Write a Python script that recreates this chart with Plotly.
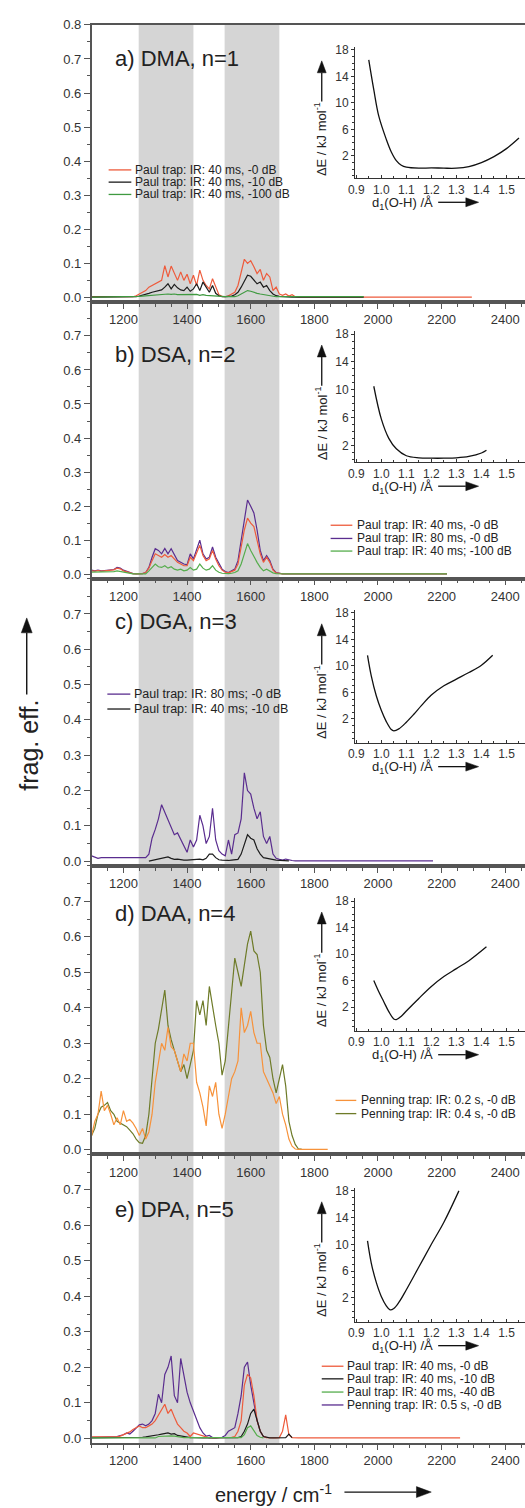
import math
import plotly.graph_objects as go

W, H = 525, 1508

# ---------------- data ----------------
GRID_START, GRID_STEP = 1100, 10          # energy grid (cm^-1) of the spectra below
energy_ticks = [1200, 1400, 1600, 1800, 2000, 2200, 2400]
frag_ticks = [0.0, 0.1, 0.2, 0.3, 0.4, 0.5, 0.6, 0.7]
frag_ticks_top = [0.0, 0.1, 0.2, 0.3, 0.4, 0.5, 0.6, 0.7, 0.8]
d_ticks = [0.9, 1.0, 1.1, 1.2, 1.3, 1.4, 1.5]
dE_ticks = [2, 6, 10, 14, 18]
shaded_bands = [(1248, 1420), (1518, 1690)]

# panel a) DMA
a_red = [0.002]*14 + [0.005, 0.01, 0.015, 0.02, 0.03, 0.035, 0.042, 0.045, 0.05, 0.093,
         0.06, 0.092, 0.07, 0.05, 0.075, 0.05, 0.068, 0.04, 0.065, 0.035,
         0.08, 0.05, 0.035, 0.025, 0.055, 0.03, 0.008, 0.003, 0.002, 0.005,
         0.01, 0.015, 0.035, 0.07, 0.112, 0.1, 0.108, 0.09, 0.07, 0.082,
         0.05, 0.07, 0.06, 0.02, 0.03, 0.01, 0.006, 0.01, 0.004, 0.008, 0.002, 0.001]
a_black = [0.001]*14 + [0.002, 0.004, 0.006, 0.01, 0.012, 0.015, 0.018, 0.02, 0.022, 0.03,
           0.04, 0.025, 0.038, 0.028, 0.022, 0.02, 0.03, 0.018, 0.025, 0.04,
           0.02, 0.045, 0.03, 0.015, 0.035, 0.012, 0.005, 0.002, 0.002, 0.002,
           0.004, 0.008, 0.015, 0.03, 0.05, 0.065, 0.062, 0.05, 0.04, 0.045,
           0.03, 0.035, 0.02, 0.01, 0.005, 0.003, 0.002, 0.002, 0.001, 0.001, 0.001, 0.001]
a_green = [0.001]*14 + [0.002, 0.003, 0.004, 0.005, 0.006, 0.007, 0.008, 0.008, 0.009, 0.01,
           0.01, 0.009, 0.01, 0.008, 0.008, 0.007, 0.008, 0.007, 0.008, 0.009,
           0.006, 0.008, 0.006, 0.005, 0.004, 0.003, 0.002, 0.002, 0.002, 0.002,
           0.002, 0.002, 0.005, 0.01, 0.015, 0.02, 0.018, 0.014, 0.012, 0.01,
           0.008, 0.007, 0.005, 0.003, 0.002, 0.002, 0.002, 0.002, 0.002, 0.002, 0.002, 0.002]
a_red_end, a_black_end, a_green_end = 2295, 1955, 1955

# panel b) DSA
b_red = [0.01, 0.009, 0.011, 0.009, 0.01, 0.011, 0.012, 0.013, 0.018, 0.016,
         0.01, 0.007, 0.004, 0.002, 0.001, 0.001, 0.002, 0.005, 0.018, 0.04,
         0.06, 0.055, 0.05, 0.058, 0.05, 0.055, 0.045, 0.035, 0.03, 0.025,
         0.025, 0.05, 0.04, 0.06, 0.085, 0.055, 0.04, 0.045, 0.07, 0.045,
         0.025, 0.012, 0.006, 0.004, 0.008, 0.012, 0.03, 0.08, 0.13, 0.165,
         0.15, 0.14, 0.1, 0.06, 0.035, 0.05, 0.035, 0.012, 0.004, 0.002,
         0.001, 0.001, 0.001, 0.001, 0.001, 0.001]
b_purple = [0.012, 0.01, 0.012, 0.01, 0.011, 0.012, 0.013, 0.014, 0.02, 0.018,
            0.012, 0.008, 0.004, 0.002, 0.001, 0.001, 0.002, 0.005, 0.02, 0.05,
            0.075, 0.07, 0.06, 0.076, 0.06, 0.075, 0.055, 0.04, 0.035, 0.03,
            0.028, 0.06, 0.045, 0.07, 0.1, 0.06, 0.045, 0.05, 0.08, 0.05,
            0.03, 0.015, 0.008, 0.005, 0.01, 0.015, 0.04, 0.1, 0.16, 0.218,
            0.2, 0.18, 0.13, 0.07, 0.04, 0.055, 0.04, 0.015, 0.005, 0.002,
            0.001, 0.001, 0.001, 0.001, 0.001, 0.001]
b_green = [0.006, 0.006, 0.007, 0.006, 0.007, 0.007, 0.008, 0.008, 0.01, 0.008,
           0.005, 0.003, 0.002, 0.001, 0.001, 0.001, 0.001, 0.001, 0.01, 0.02,
           0.03, 0.022, 0.02, 0.025, 0.018, 0.022, 0.015, 0.012, 0.015, 0.01,
           0.012, 0.02, 0.012, 0.015, 0.03, 0.018, 0.012, 0.015, 0.025, 0.012,
           0.006, 0.003, 0.002, 0.002, 0.003, 0.005, 0.01, 0.03, 0.06, 0.09,
           0.07, 0.05, 0.035, 0.02, 0.01, 0.015, 0.01, 0.004, 0.002, 0.001,
           0.001, 0.001, 0.001, 0.001, 0.001, 0.001]
b_end = 2217

# panel c) DGA
c_purple = [0.015, 0.012, 0.008, 0.01, 0.01, 0.01, 0.01, 0.01, 0.01, 0.01,
            0.01, 0.012, 0.01, 0.01, 0.01, 0.012, 0.01, 0.01, 0.02, 0.065,
            0.09, 0.12, 0.16, 0.14, 0.115, 0.1, 0.075, 0.08, 0.06, 0.04,
            0.025, 0.06, 0.04, 0.06, 0.13, 0.1, 0.05, 0.07, 0.15, 0.06,
            0.03, 0.02, 0.015, 0.06, 0.02, 0.075, 0.08, 0.12, 0.25, 0.2,
            0.19, 0.15, 0.12, 0.14, 0.07, 0.05, 0.07, 0.02, 0.008, 0.005,
            0.003, 0.006, 0.003, 0.002, 0.001, 0.001]
c_black_start = 1280
c_black = [0.0, 0.002, 0.004, 0.005, 0.006, 0.008, 0.012, 0.008, 0.005, 0.006,
           0.004, 0.003, 0.003, 0.004, 0.003, 0.005, 0.006, 0.004, 0.008, 0.02,
           0.02, 0.01, 0.004, 0.003, 0.002, 0.002, 0.003, 0.004, 0.005, 0.02,
           0.05, 0.075, 0.065, 0.06, 0.035, 0.02, 0.01, 0.008, 0.005, 0.004,
           0.003, 0.002, 0.002, 0.001, 0.001]
c_purple_end = 2173

# panel d) DAA
d_orange = [0.04, 0.08, 0.1, 0.165, 0.11, 0.125, 0.1, 0.07, 0.09, 0.07,
            0.11, 0.08, 0.085, 0.075, 0.06, 0.04, 0.06, 0.03, 0.05, 0.1,
            0.19, 0.25, 0.3, 0.28, 0.345, 0.29, 0.28, 0.25, 0.22, 0.27,
            0.25, 0.3, 0.3, 0.19, 0.16, 0.12, 0.067, 0.18, 0.15, 0.19,
            0.1, 0.06, 0.1, 0.15, 0.2, 0.22, 0.25, 0.4, 0.33, 0.35,
            0.39, 0.33, 0.3, 0.3, 0.22, 0.2, 0.18, 0.16, 0.13, 0.15,
            0.1, 0.07, 0.03, 0.01, 0.002, 0.001]
d_olive = [0.04, 0.06, 0.1, 0.12, 0.125, 0.133, 0.11, 0.1, 0.08, 0.075,
           0.07, 0.065, 0.055, 0.045, 0.03, 0.02, 0.018, 0.04, 0.1, 0.2,
           0.3, 0.34, 0.4, 0.45, 0.35, 0.31, 0.28, 0.25, 0.22, 0.24,
           0.2, 0.24, 0.28, 0.42, 0.38, 0.42, 0.35, 0.46, 0.4, 0.35,
           0.3, 0.21, 0.25, 0.35, 0.45, 0.54, 0.5, 0.46, 0.52, 0.58,
           0.616, 0.56, 0.55, 0.5, 0.35, 0.28, 0.26, 0.2, 0.16, 0.2,
           0.24, 0.18, 0.08, 0.04, 0.015, 0.002]
d_orange_end, d_olive_end = 1842, 1760

# panel e) DPA
e_purple = [0.003, 0.003, 0.004, 0.003, 0.003, 0.004, 0.003, 0.004, 0.005, 0.008,
            0.01, 0.015, 0.012, 0.02, 0.03, 0.038, 0.04, 0.035, 0.04, 0.05,
            0.07, 0.124, 0.1, 0.18, 0.2, 0.232, 0.12, 0.1, 0.225, 0.18,
            0.13, 0.1, 0.075, 0.05, 0.03, 0.015, 0.006, 0.008, 0.002, 0.001,
            0.002, 0.003, 0.008, 0.02, 0.025, 0.03, 0.07, 0.12, 0.2, 0.215,
            0.15, 0.1, 0.05, 0.02, 0.005, 0.002]
e_red = [0.004, 0.004, 0.005, 0.004, 0.004, 0.003, 0.003, 0.003, 0.004, 0.006,
         0.01, 0.012, 0.018, 0.025, 0.03, 0.035, 0.03, 0.03, 0.035, 0.04,
         0.05, 0.065, 0.08, 0.096, 0.07, 0.082, 0.06, 0.04, 0.03, 0.02,
         0.015, 0.005, 0.015, 0.012, 0.01, 0.006, 0.002, 0.001, 0.001, 0.001,
         0.001, 0.001, 0.001, 0.002, 0.003, 0.005, 0.02, 0.05, 0.15, 0.18,
         0.17, 0.12, 0.05, 0.02, 0.005, 0.002, 0.001, 0.001, 0.001, 0.002,
         0.02, 0.066, 0.01, 0.002, 0.001, 0.001]
e_black = [0.001]*15 + [0.002, 0.003, 0.004, 0.005, 0.006, 0.008, 0.01, 0.012, 0.014, 0.015,
           0.012, 0.013, 0.008, 0.006, 0.004, 0.003, 0.002, 0.002, 0.001, 0.001,
           0.001, 0.001, 0.001, 0.001, 0.001, 0.001, 0.001, 0.001, 0.002, 0.002,
           0.002, 0.002, 0.005, 0.02, 0.04, 0.07, 0.082, 0.05, 0.02, 0.005,
           0.002, 0.001, 0.001, 0.001, 0.001, 0.001, 0.002, 0.012, 0.002]
e_green = [0.001]*21 + [0.005, 0.006, 0.007, 0.008, 0.007, 0.006, 0.004, 0.002, 0.002,
           0.002, 0.002, 0.002, 0.002, 0.002, 0.002, 0.002, 0.002, 0.002, 0.002,
           0.002, 0.002, 0.002, 0.002, 0.002, 0.002, 0.002, 0.002, 0.01, 0.03,
           0.035, 0.02, 0.008, 0.003, 0.001]
e_red_end = 2258

# insets: potential energy curves  dE(d1(O-H))
ia_d = [0.95, 0.97, 0.99, 1.02, 1.04, 1.06, 1.08, 1.10, 1.15, 1.20, 1.25, 1.30, 1.35, 1.40, 1.45, 1.50, 1.55]
ia_E = [16.5, 12.0, 8.0, 4.5, 2.6, 1.3, 0.6, 0.3, 0.15, 0.2, 0.15, 0.15, 0.4, 1.0, 1.9, 3.1, 4.7]
ib_d = [0.97, 1.00, 1.03, 1.06, 1.10, 1.15, 1.20, 1.25, 1.30, 1.35, 1.40, 1.42]
ib_E = [10.5, 5.8, 3.0, 1.5, 0.5, 0.2, 0.15, 0.15, 0.2, 0.4, 0.9, 1.3]
ic_d = [0.945, 0.96, 0.98, 1.00, 1.02, 1.04, 1.05, 1.07, 1.10, 1.13, 1.16, 1.20, 1.25, 1.30, 1.35, 1.40, 1.445]
ic_E = [11.6, 8.5, 5.5, 3.3, 1.6, 0.4, 0.2, 0.5, 1.5, 2.7, 4.0, 5.6, 7.0, 8.0, 9.0, 10.1, 11.6]
id_d = [0.97, 0.99, 1.01, 1.03, 1.05, 1.06, 1.08, 1.10, 1.15, 1.20, 1.25, 1.30, 1.35, 1.42]
id_E = [6.0, 4.3, 2.8, 1.3, 0.2, 0.1, 0.6, 1.4, 3.3, 5.1, 6.6, 7.8, 9.0, 11.1]
ie_d = [0.945, 0.96, 0.98, 1.00, 1.02, 1.035, 1.05, 1.07, 1.10, 1.15, 1.20, 1.25, 1.31]
ie_E = [10.5, 7.2, 4.3, 2.2, 0.8, 0.2, 0.4, 1.3, 3.2, 6.6, 10.0, 13.3, 18.0]

# ---------------- styling ----------------
RED, BLACK, GREEN, GREEN_A = '#ee5b3c', '#1c1c1c', '#55ad4c', '#3f9a40'
PURPLE, ORANGE, OLIVE = '#5a2d8f', '#f7923a', '#6e7b28'
BAND, AXIS, TXT = '#d5d5d5', '#555555', '#333333'
FONT = 'Liberation Sans, Arial, sans-serif'


def grid(vals, start=GRID_START):
    return [start + GRID_STEP * i for i in range(len(vals))]


def with_tail(vals, end, start=GRID_START):
    xs = grid(vals, start)
    ys = list(vals)
    if end is not None:
        xs.append(end)
        ys.append(vals[-1])
    return xs, ys


def px(x):
    return x / W


def py(y):
    return 1 - y / H


panels = [
    dict(label='a) DMA, n=1', dom=(18, 296.8), top=True,
         series=[('Paul trap: IR: 40 ms, -0 dB', RED, a_red, GRID_START, a_red_end),
                 ('Paul trap: IR: 40 ms, -10 dB', BLACK, a_black, GRID_START, a_black_end),
                 ('Paul trap: IR: 40 ms, -100 dB', GREEN_A, a_green, GRID_START, a_green_end)],
         order=[0, 1, 2],
         inset=(ia_d, ia_E, -1.4, (39.9, 172.6)),
         leg=dict(x0=103, x1=126, xt=128, ys=[164, 176.3, 188.7], size=12),
         lab_y=52),
    dict(label='b) DSA, n=2', dom=(296.8, 575.5), top=False,
         series=[('Paul trap: IR: 40 ms, -0 dB', RED, b_red, GRID_START, b_end),
                 ('Paul trap: IR: 80 ms, -0 dB', PURPLE, b_purple, GRID_START, b_end),
                 ('Paul trap: IR: 40 ms; -100 dB', GREEN, b_green, GRID_START, b_end)],
         order=[1, 0, 2],
         inset=(ib_d, ib_E, -0.45, (325.8, 458.4)),
         leg=dict(x0=328, x1=350, xt=353, ys=[521.7, 535, 547.7], size=12),
         lab_y=350),
    dict(label='c) DGA, n=3', dom=(575.5, 864.5), top=False,
         series=[('Paul trap: IR: 80 ms; -0 dB', PURPLE, c_purple, GRID_START, c_purple_end),
                 ('Paul trap: IR: 40 ms; -10 dB', BLACK, c_black, c_black_start, None)],
         order=[0, 1],
         inset=(ic_d, ic_E, -1.6, (606.6, 740.7)),
         leg=dict(x0=101.7, x1=125, xt=127, ys=[691.7, 706.7], size=12.5),
         lab_y=619),
    dict(label='d) DAA, n=4', dom=(864.5, 1155), top=False,
         series=[('Penning trap: IR: 0.2 s, -0 dB', ORANGE, d_orange, GRID_START, d_orange_end),
                 ('Penning trap: IR: 0.4 s, -0 dB', OLIVE, d_olive, GRID_START, d_olive_end)],
         order=[1, 0],
         inset=(id_d, id_E, -1.6, (896.7, 1030.7)),
         leg=dict(x0=333, x1=354, xt=357, ys=[1100.7, 1114], size=12),
         lab_y=913),
    dict(label='e) DPA, n=5', dom=(1155, 1445.5), top=False,
         series=[('Paul trap: IR: 40 ms, -0 dB', RED, e_red, GRID_START, e_red_end),
                 ('Paul trap: IR: 40 ms, -10 dB', BLACK, e_black, GRID_START, None),
                 ('Paul trap: IR: 40 ms, -40 dB', GREEN, e_green, GRID_START, None),
                 ('Penning trap: IR: 0.5 s, -0 dB', PURPLE, e_purple, GRID_START, None)],
         order=[3, 0, 1, 2],
         inset=(ie_d, ie_E, -1.6, (1188.4, 1323.6)),
         leg=dict(x0=319, x1=341, xt=343, ys=[1368.3, 1381, 1394.3, 1407.3], size=12),
         lab_y=1211),
]

fig = go.Figure()
shapes, annos = [], []


def arrow(x0, y0, x1, y1, hl=12, hw=4.5, lw=1.3):
    dx, dy = x1 - x0, y1 - y0
    L = math.hypot(dx, dy)
    ux, uy = dx / L, dy / L
    bx, by = x1 - ux * hl, y1 - uy * hl
    shapes.append(dict(type='line', xref='paper', yref='paper', x0=px(x0), y0=py(y0),
                       x1=px(bx), y1=py(by), line=dict(color='#111', width=lw)))
    nx, ny = -uy, ux
    pts = [(x1, y1), (bx + nx * hw, by + ny * hw), (bx - nx * hw, by - ny * hw)]
    path = 'M ' + ' L '.join(f'{px(a):.5f},{py(b):.5f}' for a, b in pts) + ' Z'
    shapes.append(dict(type='path', xref='paper', yref='paper', path=path,
                       fillcolor='#111', line=dict(color='#111', width=0.5)))


XDOM = (px(85.75), 1.0)
XRANGE = [1100, 2462]
IX_DOM = (px(352.7), 1.0)
IX_RANGE = [0.895, 1.574]

layout = dict(width=W, height=H, margin=dict(l=0, r=0, t=0, b=0),
              paper_bgcolor='white', plot_bgcolor='rgba(0,0,0,0)', showlegend=False,
              font=dict(family=FONT, color=TXT))

for i, p in enumerate(panels):
    k = i + 1
    ki = i + 6
    xa = 'xaxis' if k == 1 else f'xaxis{k}'
    ya = 'yaxis' if k == 1 else f'yaxis{k}'
    xr = 'x' if k == 1 else f'x{k}'
    yr = 'y' if k == 1 else f'y{k}'
    for j in p['order']:
        name, col, vals, start, end = p['series'][j]
        xs, ys = with_tail(vals, end, start)
        fig.add_trace(go.Scatter(x=xs, y=ys, mode='lines', name=name,
                                 line=dict(color=col, width=1.2), xaxis=xr, yaxis=yr,
                                 hoverinfo='skip'))
    top, bot = p['dom']
    layout[xa] = dict(domain=list(XDOM), range=XRANGE, anchor=yr, tickvals=energy_ticks,
                      ticks='outside', ticklen=5, tickwidth=1.2, tickcolor=AXIS,
                      minor=dict(dtick=50, tick0=1100, ticks='outside', ticklen=3, tickcolor=AXIS),
                      showline=True, linecolor=AXIS, linewidth=1.5, mirror=True,
                      showgrid=False, zeroline=False, tickfont=dict(size=13, color=TXT))
    layout[ya] = dict(domain=[py(bot), py(top)], range=[-0.013, 0.8], anchor=xr,
                      tickvals=frag_ticks_top if p['top'] else frag_ticks,
                      tickformat='.1f', ticks='outside', ticklen=6, tickwidth=1.2,
                      tickcolor=AXIS,
                      minor=dict(dtick=0.05, tick0=0, ticks='outside', ticklen=3, tickcolor=AXIS),
                      showline=True, linecolor=AXIS, linewidth=1.5,
                      showgrid=False, zeroline=False, tickfont=dict(size=13, color=TXT))
    # inset
    d, E, ylo, (itop, ibot) = p['inset']
    ixa, iya, ixr, iyr = f'xaxis{ki}', f'yaxis{ki}', f'x{ki}', f'y{ki}'
    fig.add_trace(go.Scatter(x=d, y=E, mode='lines', line=dict(color='#111', width=1.3, shape='spline'),
                             xaxis=ixr, yaxis=iyr, hoverinfo='skip'))
    layout[ixa] = dict(domain=list(IX_DOM), range=IX_RANGE, anchor=iyr, tickvals=d_ticks,
                       tickformat='.1f', ticks='inside', ticklen=3, tickcolor='#333',
                       minor=dict(dtick=0.05, ticks='inside', ticklen=2, tickcolor='#333'),
                       showline=True, linecolor='#333', linewidth=1, showgrid=False,
                       zeroline=False, tickfont=dict(size=12, color=TXT))
    layout[iya] = dict(domain=[py(ibot), py(itop)], range=[ylo, 18.5], anchor=ixr,
                       tickvals=dE_ticks, ticks='outside', ticklen=3, tickcolor='#333',
                       minor=dict(dtick=1, ticks='outside', ticklen=2, tickcolor='#333'),
                       showline=True, linecolor='#333', linewidth=1, showgrid=False,
                       zeroline=False, tickfont=dict(size=12, color=TXT))
    t18 = itop + (18.5 - 18) * (ibot - itop) / (18.5 - ylo)
    annos.append(dict(xref='paper', yref='paper', x=px(318), y=py(t18 + 90),
                      text='ΔE / kJ mol<sup>-1</sup>', textangle=-90, showarrow=False,
                      font=dict(size=13, color='#222'), xanchor='center', yanchor='middle'))
    arrow(319, t18 + 52, 319, t18 + 11, hl=12, hw=4.5)
    annos.append(dict(xref='paper', yref='paper', x=px(401), y=py(ibot + 25),
                      text='d<sub>1</sub>(O-H) /Å', showarrow=False,
                      font=dict(size=13, color='#222'), xanchor='center', yanchor='middle'))
    arrow(437, ibot + 24, 478, ibot + 24, hl=13, hw=4.5)
    # panel label
    annos.append(dict(xref='paper', yref='paper', x=px(107), y=py(p['lab_y']), text=p['label'],
                      showarrow=False, font=dict(size=22, color='#222'),
                      xanchor='left', yanchor='middle'))
    # legend
    lg = p['leg']
    for (name, col, _, _, _), yy in zip(p['series'], lg['ys']):
        shapes.append(dict(type='line', xref='paper', yref='paper', x0=px(lg['x0']), x1=px(lg['x1']),
                           y0=py(yy), y1=py(yy), line=dict(color=col, width=1.3)))
        annos.append(dict(xref='paper', yref='paper', x=px(lg['xt']), y=py(yy), text=name,
                          showarrow=False, font=dict(size=lg['size'], color='#222'),
                          xanchor='left', yanchor='middle'))

# grey bands through all panels
for lo, hi in shaded_bands:
    shapes.append(dict(type='rect', xref='x5', yref='paper', x0=lo, x1=hi,
                       y0=py(1445.5), y1=py(18), fillcolor=BAND, line=dict(width=0), layer='below'))

# main axis titles
annos.append(dict(xref='paper', yref='paper', x=px(270), y=py(1496), text='energy / cm<sup>-1</sup>',
                  showarrow=False, font=dict(size=20, color='#222'), xanchor='center', yanchor='middle'))
arrow(342, 1495, 430, 1495, hl=15, hw=5.5, lw=1.4)
annos.append(dict(xref='paper', yref='paper', x=px(22), y=py(743), text='frag. eff.', textangle=-90,
                  showarrow=False, font=dict(size=25, color='#222'), xanchor='center', yanchor='middle'))
arrow(20, 692, 20, 615, hl=15, hw=5.5, lw=1.4)

layout['shapes'] = shapes
layout['annotations'] = annos
fig.update_layout(**layout)
fig.write_html('out.html', config={'displayModeBar': False},
               post_script="document.body.style.margin='0';document.body.style.padding='0';"
                           "document.body.style.overflow='hidden';")
